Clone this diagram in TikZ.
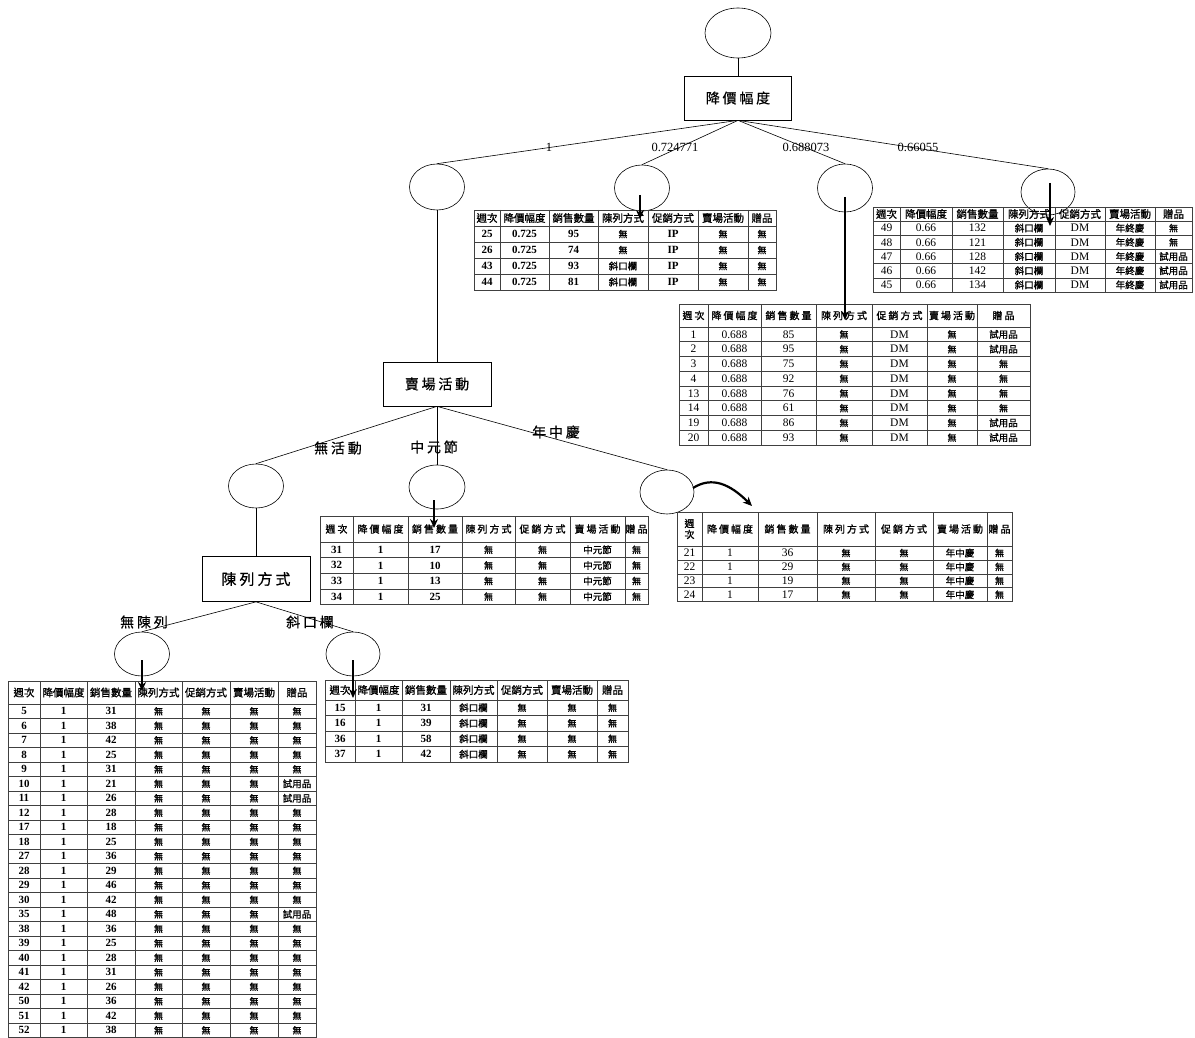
\documentclass[tikz,border=0pt]{standalone}
\usepackage{fontspec}
\setmainfont{Liberation Serif}
\newfontfamily\cjk{Noto Sans CJK TC}
\newfontfamily\cjkh[FakeBold=1.2]{Noto Sans CJK TC}
\newfontfamily\cjkhs[FakeBold=1.2,LetterSpace=20]{Noto Sans CJK TC}
\newfontfamily\cjks[LetterSpace=20,FakeBold=0.6]{Noto Sans CJK TC}
\usetikzlibrary{arrows.meta,shapes.geometric}

\newcommand\wu{{\mdseries\cjkh\fontsize{9}{10}\selectfont 無}}
\newcommand\syp{{\mdseries\cjkh\fontsize{9.5}{10}\selectfont 試用品}}
\newcommand\xkl{{\mdseries\cjkh\fontsize{9.5}{10}\selectfont 斜口欄}}
\newcommand\nzq{{\mdseries\cjkh\fontsize{9.5}{10}\selectfont 年終慶}}
\newcommand\zyj{{\mdseries\cjkh\fontsize{9.5}{10}\selectfont 中元節}}
\newcommand\nzz{{\mdseries\cjkh\fontsize{9.5}{10}\selectfont 年中慶}}

% #1 name, #2 column bounds, #3 top, #4 header bottom, #5 row height,
% #6 number of rows, #7 headers, #8 rows, #9 style suffix
\newcommand\mktable[9]{%
  \def\tbcb{{#2}}%
  \pgfmathsetmacro\tbybot{#4+#5*#6}%
  \pgfmathsetmacro\tbxa{\tbcb[0]}%
  \pgfmathsetmacro\tbxb{\tbcb[7]}%
  \draw[tab] (\tbxa,#3) rectangle (\tbxb,\tbybot);
  \foreach \i in {1,...,6}{\pgfmathsetmacro\tbxx{\tbcb[\i]}\draw[tab] (\tbxx,#3) -- (\tbxx,\tbybot);}
  \draw[tab] (\tbxa,#4) -- (\tbxb,#4);
  \foreach \k in {1,...,#6}{\pgfmathsetmacro\tbyy{#4+#5*\k}\draw[tab] (\tbxa,\tbyy) -- (\tbxb,\tbyy);}
  \foreach[count=\c] \h in {#7}{%
    \pgfmathtruncatemacro\tbcm{\c-1}%
    \pgfmathsetmacro\tbxl{\tbcb[\tbcm]}\pgfmathsetmacro\tbxr{\tbcb[\c]}%
    \node[hd#9] (#1-h\c) at ({(\tbxl+\tbxr)/2},{(#3+#4)/2}) {\h};}
  \foreach[count=\r] \row in {#8}{%
    \foreach[count=\c] \v in \row {%
      \pgfmathtruncatemacro\tbcm{\c-1}%
      \pgfmathsetmacro\tbxl{\tbcb[\tbcm]}\pgfmathsetmacro\tbxr{\tbcb[\c]}%
      \node[cl#9] (#1-\r-\c) at ({(\tbxl+\tbxr)/2},{#4+#5*(\r-0.5)}) {\v};}}
}

\begin{document}
\begin{tikzpicture}[x=1pt,y=-1pt,
  circ/.style={draw, ellipse, inner sep=0pt, line width=0.6pt},
  attbox/.style={draw, rectangle, minimum width=107pt, minimum height=44pt, inner sep=0pt, line width=0.7pt, font=\cjks\fontsize{14}{14}\selectfont},
  edge/.style={line width=0.6pt},
  arr/.style={line width=2.2pt, -{Stealth[length=9pt,width=8pt]}},
  numlab/.style={font=\fontsize{12.5}{13}\selectfont, inner sep=0pt},
  cjklab/.style={font=\cjks\fontsize{14}{14}\selectfont, inner sep=0pt},
  tab/.style={line width=0.6pt, draw=black!75},
  hdnarrow/.style={inner sep=0pt, align=center, font=\cjkh\fontsize{10.5}{11}\selectfont},
  hdwide/.style={inner sep=0pt, align=center, font=\cjkhs\fontsize{10}{11}\selectfont},
  clbold/.style={inner sep=0pt, font=\fontsize{11}{11}\selectfont\bfseries},
  clreg/.style={inner sep=0pt, font=\fontsize{11.5}{12}\selectfont},
  hdA/.style={hdnarrow}, clA/.style={clbold},
  hdB/.style={hdnarrow}, clB/.style={clreg},
  hdC/.style={hdwide}, clC/.style={clreg},
  hdD/.style={hdwide}, clD/.style={clbold},
  hdE/.style={hdwide}, clE/.style={clreg},
  hdF/.style={hdnarrow}, clF/.style={clbold},
  hdG/.style={hdnarrow}, clG/.style={clbold}]

\fill[white] (0,0) rectangle (1195,1038);
\useasboundingbox (0,0) rectangle (1195,1038);

% tree nodes
\node[circ, minimum width=66pt, minimum height=50pt] (root) at (738,33) {};
\node[attbox] (b1) at (738,98) {降價幅度};
\node[circ, minimum width=55pt, minimum height=46pt] (c1) at (437,187) {};
\node[circ, minimum width=55pt, minimum height=46pt] (c2) at (642,188) {};
\node[circ, minimum width=55pt, minimum height=48pt] (c3) at (845,188) {};
\node[circ, minimum width=54pt, minimum height=46pt] (c4) at (1048,192) {};
\node[attbox, minimum width=108pt] (b2) at (437,384) {賣場活動};
\node[circ, minimum width=55pt, minimum height=44pt] (c5) at (256,486) {};
\node[circ, minimum width=56pt, minimum height=44pt] (c6) at (437,487) {};
\node[circ, minimum width=54pt, minimum height=44pt] (c7) at (667,492) {};
\node[attbox, minimum width=108pt, minimum height=45pt, font=\cjks\fontsize{15}{15}\selectfont] (b3) at (256,579) {陳列方式};
\node[circ, minimum width=55pt, minimum height=44pt] (c8) at (142,654) {};
\node[circ, minimum width=54pt, minimum height=44pt] (c9) at (353,654) {};

% edges
\draw[edge] (root.south) -- (b1.north);
\draw[edge] (b1.south) -- (c1.north);
\draw[edge] (b1.south) -- (c2.north);
\draw[edge] (b1.south) -- (c3.north);
\draw[edge] (b1.south) -- (c4.north);
\draw[edge] (c1.south) -- (b2.north);
\draw[edge] (b2.south) -- (c5.north);
\draw[edge] (b2.south) -- (c6.north);
\draw[edge] (b2.south) -- (c7.north);
\draw[edge] (c5.south) -- (b3.north);
\draw[edge] (b3.south) -- (c8.north);
\draw[edge] (b3.south) -- (c9.north);

% branch labels
\node[numlab] (l1) at (549,147) {1};
\node[numlab] (l2) at (675,147) {0.724771};
\node[numlab] (l3) at (806,147) {0.688073};
\node[numlab] (l4) at (918,147) {0.66055};
\node[cjklab] (l5) at (338,448) {無活動};
\node[cjklab] (l6) at (434,447) {中元節};
\node[cjklab] (l7) at (556,432) {年中慶};
\node[cjklab] (l8) at (144,622) {無陳列};
\node[cjklab] (l9) at (310,622) {斜口欄};

% tables
\mktable{tA}{474,500,549,598,648,698,748,776}{210}{226}{16}{4}
  {週次,降價幅度,銷售數量,陳列方式,促銷方式,賣場活動,贈品}
  {{25,0.725,95,\wu,IP,\wu,\wu},{26,0.725,74,\wu,IP,\wu,\wu},{43,0.725,93,\xkl,IP,\wu,\wu},{44,0.725,81,\xkl,IP,\wu,\wu}}{A}

\mktable{tB}{873,900,952,1003,1055,1105,1155,1192}{207}{221}{14.2}{5}
  {週次,降價幅度,銷售數量,陳列方式,促銷方式,賣場活動,贈品}
  {{49,0.66,132,\xkl,DM,\nzq,\wu},{48,0.66,121,\xkl,DM,\nzq,\wu},{47,0.66,128,\xkl,DM,\nzq,\syp},{46,0.66,142,\xkl,DM,\nzq,\syp},{45,0.66,134,\xkl,DM,\nzq,\syp}}{B}

\mktable{tC}{679,708,761,816,872,927,977,1030}{304}{327}{14.75}{8}
  {週次,降價幅度,銷售數量,陳列方式,促銷方式,賣場活動,贈品}
  {{1,0.688,85,\wu,DM,\wu,\syp},{2,0.688,95,\wu,DM,\wu,\syp},{3,0.688,75,\wu,DM,\wu,\wu},{4,0.688,92,\wu,DM,\wu,\wu},{13,0.688,76,\wu,DM,\wu,\wu},{14,0.688,61,\wu,DM,\wu,\wu},{19,0.688,86,\wu,DM,\wu,\syp},{20,0.688,93,\wu,DM,\wu,\syp}}{C}

\mktable{tD}{320,353,408,462,515,570,625,648}{516}{542}{15.6}{4}
  {週次,降價幅度,銷售數量,陳列方式,促銷方式,賣場活動,贈品}
  {{31,1,17,\wu,\wu,\zyj,\wu},{32,1,10,\wu,\wu,\zyj,\wu},{33,1,13,\wu,\wu,\zyj,\wu},{34,1,25,\wu,\wu,\zyj,\wu}}{D}

\mktable{tE}{677,702,758,817,875,933,987,1012}{512}{546}{13.9}{4}
  {{週\\次},降價幅度,銷售數量,陳列方式,促銷方式,賣場活動,贈品}
  {{21,1,36,\wu,\wu,\nzz,\wu},{22,1,29,\wu,\wu,\nzz,\wu},{23,1,19,\wu,\wu,\nzz,\wu},{24,1,17,\wu,\wu,\nzz,\wu}}{E}

\mktable{tF}{325,355,402,450,497,547,597,628}{680}{700}{15.5}{4}
  {週次,降價幅度,銷售數量,陳列方式,促銷方式,賣場活動,贈品}
  {{15,1,31,\xkl,\wu,\wu,\wu},{16,1,39,\xkl,\wu,\wu,\wu},{36,1,58,\xkl,\wu,\wu,\wu},{37,1,42,\xkl,\wu,\wu,\wu}}{F}

\mktable{tG}{8,40,87,135,182,230,278,316}{681}{704}{14.5}{23}
  {週次,降價幅度,銷售數量,陳列方式,促銷方式,賣場活動,贈品}
  {{5,1,31,\wu,\wu,\wu,\wu},{6,1,38,\wu,\wu,\wu,\wu},{7,1,42,\wu,\wu,\wu,\wu},{8,1,25,\wu,\wu,\wu,\wu},{9,1,31,\wu,\wu,\wu,\wu},{10,1,21,\wu,\wu,\wu,\syp},{11,1,26,\wu,\wu,\wu,\syp},{12,1,28,\wu,\wu,\wu,\wu},{17,1,18,\wu,\wu,\wu,\wu},{18,1,25,\wu,\wu,\wu,\wu},{27,1,36,\wu,\wu,\wu,\wu},{28,1,29,\wu,\wu,\wu,\wu},{29,1,46,\wu,\wu,\wu,\wu},{30,1,42,\wu,\wu,\wu,\wu},{35,1,48,\wu,\wu,\wu,\syp},{38,1,36,\wu,\wu,\wu,\wu},{39,1,25,\wu,\wu,\wu,\wu},{40,1,28,\wu,\wu,\wu,\wu},{41,1,31,\wu,\wu,\wu,\wu},{42,1,26,\wu,\wu,\wu,\wu},{50,1,36,\wu,\wu,\wu,\wu},{51,1,42,\wu,\wu,\wu,\wu},{52,1,38,\wu,\wu,\wu,\wu}}{G}

% arrows into tables
\coordinate (a1s) at (640,195);  \coordinate (a1e) at (640,219);
\coordinate (a2s) at (845,197);  \coordinate (a2e) at (845,320);
\coordinate (a3s) at (1050,183); \coordinate (a3e) at (1050,226);
\coordinate (a4s) at (434,500);  \coordinate (a4e) at (434,528);
\coordinate (a5s) at (142,660);  \coordinate (a5e) at (142,691);
\coordinate (a6s) at (353,660);  \coordinate (a6e) at (353,698);
\coordinate (a7s) at (693,488);  \coordinate (a7e) at (752,506);
\draw[arr] (a1s) -- (a1e);
\draw[arr] (a2s) -- (a2e);
\draw[arr] (a3s) -- (a3e);
\draw[arr] (a4s) -- (a4e);
\draw[arr] (a5s) -- (a5e);
\draw[arr] (a6s) -- (a6e);
\draw[arr] (a7s) .. controls (712,476) and (730,484) .. (a7e);
\end{tikzpicture}
\end{document}
